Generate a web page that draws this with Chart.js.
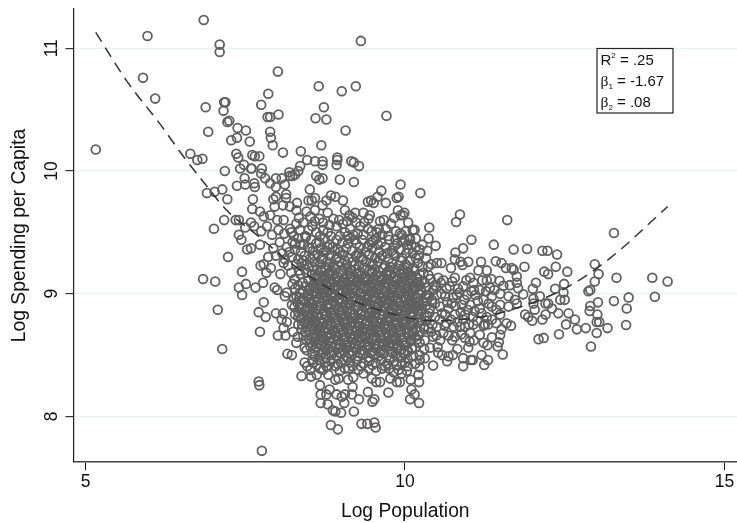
<!DOCTYPE html>
<html><head><meta charset="utf-8">
<style>html,body{margin:0;padding:0;background:#fff}#w{width:737px;height:523px;position:relative}</style>
<script src="https://cdn.jsdelivr.net/npm/chart.js@4"></script>
</head><body><div id="w"><canvas id="c" width="737" height="523"></canvas></div>
<script>
const xTicks=[5,10,15];
const yTicks=[8,9,10,11];
const fitCurve=[[5.16,11.13],[5.65,10.73],[6.17,10.38],[6.53,10.12],[6.84,9.915],[7.21,9.68],[7.68,9.48],[8.25,9.235],[9.04,8.98],[9.92,8.82],[10.44,8.78],[11.23,8.815],[11.85,8.90],[12.53,9.05],[13.21,9.29],[14.11,9.71]];
const upperCities=[[5.16,10.175],[5.97,11.10],[6.85,11.23],[7.10,11.03],[7.10,10.97],[9.31,11.06],[8.01,10.81],[5.90,10.76],[6.09,10.59],[7.86,10.63],[8.65,10.69],[9.01,10.65],[9.23,10.69],[6.88,10.52],[7.17,10.56],[7.19,10.56],[7.16,10.49],[7.75,10.54],[8.02,10.46],[7.85,10.44],[7.89,10.44],[8.73,10.52],[8.60,10.43],[8.77,10.42],[9.71,10.45],[9.07,10.33],[6.92,10.32],[7.22,10.40],[7.25,10.41],[7.38,10.35],[7.51,10.33],[7.37,10.27],[7.28,10.25],[7.57,10.24],[7.89,10.32],[7.90,10.27],[7.93,10.21],[8.69,10.21],[6.64,10.14],[6.75,10.09],[6.83,10.10],[8.09,10.15],[8.37,10.16],[7.36,10.14],[7.39,10.11],[7.61,10.13],[7.65,10.12],[7.72,10.12],[8.47,10.09],[8.59,10.08],[8.71,10.08],[8.71,10.05],[8.94,10.11],[8.94,10.09],[8.93,10.05],[9.16,10.08],[9.20,10.07],[9.28,10.04],[7.18,10.00],[7.48,10.05],[7.42,10.02],[7.59,10.02],[7.60,10.02],[7.76,10.02],[7.75,9.98],[8.36,10.04],[8.33,10.00],[8.19,9.99],[8.20,9.96],[8.24,9.96],[8.28,9.97],[8.61,9.96],[8.66,9.93],[8.71,9.94],[8.98,9.93],[9.20,9.91],[7.81,9.94],[7.89,9.90],[7.98,9.94],[8.07,9.94],[8.12,9.89],[7.98,9.87],[7.37,9.88],[7.50,9.89],[7.49,9.94],[7.64,9.90],[7.65,9.87],[7.14,9.85],[7.02,9.83],[6.90,9.82],[7.22,9.77],[7.62,9.77],[8.51,9.85],[8.14,9.81],[8.14,9.78],[7.94,9.77],[7.98,9.79],[9.63,9.84],[9.57,9.79],[9.47,9.76],[9.42,9.75],[9.51,9.74],[9.70,9.74],[9.87,9.78],[9.93,9.89],[9.90,9.79],[9.03,9.76],[8.91,9.79],[8.84,9.80],[8.77,9.76],[8.49,9.76],[8.54,9.76],[8.59,9.78],[8.31,9.74],[8.71,9.72],[7.61,9.69],[7.73,9.67],[7.96,9.71],[8.09,9.72],[8.20,9.71],[8.30,9.68],[8.46,9.67],[8.59,9.68],[8.79,9.66],[9.22,9.66],[9.45,9.64],[9.93,9.64],[9.13,9.64],[9.18,9.62],[9.43,9.61],[9.61,9.59],[8.97,9.60],[9.24,9.58],[7.17,9.60],[7.35,9.60],[7.40,9.60],[7.01,9.53],[7.50,9.54],[7.59,9.58],[7.64,9.55],[7.89,9.64],[8.00,9.60],[8.10,9.60],[7.79,9.63],[7.84,9.55],[7.40,9.48],[7.75,9.51],[8.02,9.52],[8.20,9.53],[8.36,9.52],[8.49,9.52],[8.59,9.59],[8.72,9.58],[8.72,9.52],[8.84,9.47],[9.06,9.50],[9.14,9.53],[9.19,9.48],[9.35,9.48],[9.48,9.51],[9.64,9.48],[9.92,9.49],[10.24,9.82],[9.99,9.66],[10.05,9.58],[10.15,9.52],[9.78,9.57],[9.85,9.44],[9.56,9.50],[9.30,9.55],[8.93,9.55],[8.61,9.50],[8.30,9.57],[8.11,9.49],[7.92,9.48],[10.07,9.44],[8.41,9.58],[8.52,9.63],[8.26,9.47],[8.04,9.42],[8.15,9.38],[7.98,9.31],[8.08,9.33],[8.79,9.50],[8.88,9.61],[9.03,9.57],[9.26,9.49],[9.42,9.53],[9.70,9.53],[9.83,9.62],[10.01,9.51]];
const lowerLeft=[[7.23,9.30],[6.84,9.12],[7.03,9.10],[7.45,9.18],[7.44,9.44],[7.53,9.36],[7.59,9.37],[7.73,9.40],[7.94,9.37],[7.86,9.30],[7.74,9.23],[7.79,9.24],[7.90,9.21],[7.83,9.17],[8.10,9.25],[8.17,9.23],[8.05,9.16],[7.51,9.08],[7.40,9.05],[7.66,9.05],[7.78,9.09],[7.45,8.99],[7.96,9.05],[8.00,9.03],[8.15,9.01],[8.12,8.98],[7.07,8.87],[7.79,8.93],[7.71,8.85],[7.82,8.81],[7.98,8.84],[8.09,8.84],[8.07,8.79],[8.15,8.77],[8.23,8.91],[8.28,8.83],[7.73,8.69],[8.10,8.72],[8.01,8.66],[8.13,8.66],[8.25,8.69],[8.32,8.65],[8.30,8.60],[8.46,8.62],[8.38,8.71],[7.14,8.55],[8.46,8.54],[8.16,8.51],[8.23,8.50],[8.43,8.44],[8.47,8.41],[8.52,8.38],[8.38,8.33],[8.53,8.325],[8.62,8.34],[8.67,8.39],[8.77,8.41],[8.80,8.34],[8.91,8.41],[8.91,8.30],[8.96,8.31],[9.11,8.30],[9.19,8.32],[9.06,8.39],[9.35,8.35],[9.48,8.31],[9.55,8.28],[9.61,8.28],[9.77,8.31],[9.87,8.28],[9.64,8.39],[9.90,8.38],[7.71,8.285],[7.72,8.255],[8.67,8.255],[8.82,8.22],[8.77,8.18],[8.68,8.18],[8.93,8.18],[9.06,8.18],[9.17,8.18],[9.18,8.24],[9.42,8.20],[9.52,8.14],[9.49,8.12],[9.74,8.195],[9.28,8.14],[9.05,8.11],[8.68,8.11],[8.79,8.10],[9.01,8.16],[8.87,8.05],[8.91,8.04],[9.00,8.03],[9.20,8.04],[8.84,7.93],[8.95,7.895],[9.32,7.94],[9.41,7.94],[9.52,7.95],[9.54,7.91],[7.76,7.72]];
const rightTail=[[9.97,9.64],[10.86,9.645],[10.80,9.585],[11.60,9.60],[13.27,9.495],[10.38,9.54],[10.12,9.52],[10.37,9.45],[10.08,9.45],[10.48,9.39],[9.95,9.48],[11.04,9.44],[10.91,9.37],[10.79,9.336],[11.39,9.40],[11.70,9.36],[11.91,9.365],[12.15,9.35],[12.23,9.35],[12.38,9.32],[10.12,9.33],[10.78,9.28],[11.42,9.265],[11.51,9.25],[11.58,9.21],[11.19,9.26],[10.99,9.26],[10.87,9.26],[10.90,9.235],[10.57,9.25],[10.50,9.25],[10.41,9.24],[10.72,9.21],[11.87,9.22],[12.36,9.22],[12.97,9.24],[12.18,9.18],[12.24,9.16],[12.54,9.18],[13.03,9.16],[13.31,9.13],[13.87,9.13],[14.11,9.10],[12.97,9.10],[12.49,9.08],[12.05,9.09],[12.00,9.04],[12.35,9.04],[12.87,9.02],[12.90,9.03],[13.50,8.97],[13.91,8.975],[13.27,8.94],[13.02,8.93],[12.90,8.90],[12.89,8.86],[13.47,8.88],[13.01,8.83],[13.00,8.77],[13.04,8.77],[13.46,8.745],[13.17,8.72],[12.83,8.72],[12.69,8.71],[13.00,8.68],[12.66,8.79],[12.56,8.84],[12.52,8.75],[12.41,8.67],[12.40,8.84],[12.91,8.57],[12.17,8.64],[12.09,8.63],[11.99,8.78],[12.15,8.79],[12.20,8.83],[12.30,8.88],[12.20,8.92],[12.11,8.98],[12.01,8.96],[12.01,8.92],[12.03,8.87],[12.43,8.95],[12.50,8.95],[12.48,9.01],[12.24,8.92],[11.85,8.995],[11.75,9.09],[11.70,9.195],[11.67,9.21],[11.75,9.14],[11.77,9.045],[11.72,8.95],[11.75,8.92],[11.93,8.81],[11.88,8.83],[11.66,8.74],[11.59,8.76],[11.51,8.71],[11.49,8.665],[11.47,8.605],[11.45,8.57],[11.53,8.505],[11.36,8.645],[11.29,8.58],[11.23,8.60],[11.20,8.50],[11.30,8.46],[11.24,8.42],[11.06,8.46],[11.03,8.46],[10.91,8.475],[10.91,8.41],[11.01,8.61],[10.99,8.56],[10.82,8.55],[10.75,8.50],[10.68,8.49],[10.66,8.45],[10.58,8.50],[10.51,8.565],[10.52,8.52],[10.39,8.56],[10.44,8.415],[10.31,8.475],[10.23,8.46],[10.16,8.43],[10.23,8.40],[10.21,8.34],[10.22,8.28],[10.09,8.30],[10.10,8.22],[10.15,8.18],[10.08,8.14],[10.22,8.11],[9.95,8.35],[9.92,8.28],[10.03,8.37],[10.05,8.41],[10.13,8.49],[10.78,8.65],[10.94,8.64],[11.02,8.68],[11.17,8.665],[11.30,8.75],[11.43,8.76],[10.86,8.73],[10.60,8.68],[10.44,8.65],[10.23,8.60],[10.31,8.62],[10.29,9.17],[10.37,9.15],[10.52,9.13],[10.60,9.11],[10.78,9.13],[11.02,9.13],[11.15,9.19],[11.28,9.19],[11.28,9.11],[11.48,9.105],[11.07,9.09],[10.91,9.06],[10.70,9.06],[10.44,9.03],[10.23,9.07],[11.17,9.03],[11.33,9.05],[11.54,9.065],[11.64,9.07],[11.49,9.00],[11.62,8.98],[11.36,8.98],[11.23,8.95],[11.10,8.99],[10.97,8.99],[10.81,8.99],[10.63,8.98],[10.50,8.99],[10.34,8.965],[11.49,8.91],[11.62,8.895],[11.36,8.895],[11.17,8.88],[11.02,8.91],[10.89,8.91],[10.73,8.92],[10.55,8.895],[10.39,8.88],[10.23,8.91],[11.49,8.83],[11.28,8.81],[11.06,8.81],[10.94,8.83],[10.78,8.83],[10.63,8.83],[10.47,8.81],[10.31,8.81],[11.25,8.75],[11.07,8.75],[10.94,8.73],[10.76,8.73],[10.50,8.73],[10.37,8.72],[10.18,8.72],[10.65,8.76],[10.23,8.69],[10.08,8.62],[10.16,8.56],[10.00,8.515],[10.23,8.50]];
const upperBand=[[8.24,9.42],[8.33,9.45],[8.42,9.40],[8.53,9.44],[8.61,9.41],[8.74,9.45],[8.82,9.40],[8.93,9.44],[9.02,9.42],[9.13,9.45],[9.24,9.41],[9.33,9.44],[9.44,9.40],[9.55,9.45],[9.63,9.42],[9.75,9.44],[9.84,9.39],[9.96,9.43],[10.04,9.40],[10.17,9.38],[8.28,9.36],[8.37,9.34],[8.48,9.38],[8.56,9.35],[8.68,9.37],[8.77,9.35],[8.87,9.38],[8.98,9.34],[9.08,9.37],[9.17,9.35],[9.29,9.38],[9.38,9.34],[9.49,9.37],[9.60,9.34],[9.69,9.38],[9.79,9.35],[9.91,9.36],[10.02,9.33],[10.22,9.31],[8.23,9.30],[8.33,9.28],[8.43,9.31],[8.52,9.29],[8.63,9.32],[8.72,9.29],[8.83,9.31],[8.92,9.28],[9.03,9.32],[9.12,9.29],[9.23,9.31],[9.34,9.28],[9.44,9.32],[9.53,9.29],[9.64,9.31],[9.74,9.28],[9.85,9.31],[9.96,9.29],[10.08,9.27],[10.20,9.25],[10.33,9.29],[8.38,9.25],[8.47,9.24],[8.58,9.26],[8.67,9.24],[8.78,9.26],[8.88,9.23],[8.97,9.26],[9.09,9.24],[9.18,9.26],[9.28,9.23],[9.39,9.26],[9.49,9.24],[9.58,9.26],[9.69,9.23],[9.80,9.25],[9.90,9.23],[10.01,9.24],[10.13,9.21],[10.27,9.22]];
const denseCore=[
[8.62,9.20],[8.70,9.18],[8.76,9.21],[8.85,9.19],[8.91,9.20],[9.00,9.18],[9.06,9.21],[9.15,9.19],[9.22,9.20],[9.30,9.18],[9.36,9.21],[9.45,9.19],[9.52,9.20],[9.60,9.18],[9.66,9.21],[9.75,9.19],[9.83,9.20],[9.90,9.18],[9.97,9.20],[10.05,9.18],[10.14,9.19],
[8.55,9.16],[8.64,9.15],[8.72,9.14],[8.79,9.16],[8.87,9.15],[8.94,9.14],[9.02,9.16],[9.09,9.15],[9.17,9.14],[9.24,9.16],[9.32,9.15],[9.39,9.14],[9.47,9.16],[9.55,9.15],[9.62,9.14],[9.70,9.16],[9.77,9.15],[9.85,9.14],[9.93,9.16],[10.00,9.14],[10.09,9.15],[10.18,9.13],
[8.49,9.11],[8.60,9.12],[8.67,9.10],[8.75,9.11],[8.82,9.12],[8.90,9.10],[8.97,9.11],[9.05,9.12],[9.12,9.10],[9.20,9.11],[9.27,9.12],[9.35,9.10],[9.42,9.11],[9.50,9.12],[9.57,9.10],[9.65,9.11],[9.72,9.12],[9.80,9.10],[9.88,9.11],[9.96,9.12],[10.04,9.10],[10.12,9.11],[10.26,9.10],
[8.44,9.06],[8.55,9.07],[8.62,9.08],[8.70,9.06],[8.78,9.07],[8.85,9.08],[8.92,9.06],[9.00,9.07],[9.07,9.08],[9.15,9.06],[9.22,9.07],[9.30,9.08],[9.37,9.06],[9.45,9.07],[9.52,9.08],[9.60,9.06],[9.67,9.07],[9.75,9.08],[9.83,9.06],[9.91,9.07],[9.99,9.08],[10.07,9.06],[10.17,9.05],[10.33,9.05],
[8.40,9.02],[8.50,9.03],[8.58,9.02],[8.65,9.04],[8.73,9.03],[8.80,9.02],[8.88,9.04],[8.95,9.03],[9.03,9.02],[9.10,9.04],[9.18,9.03],[9.25,9.02],[9.33,9.04],[9.40,9.03],[9.48,9.02],[9.55,9.04],[9.63,9.03],[9.70,9.02],[9.78,9.04],[9.86,9.03],[9.94,9.02],[10.02,9.04],[10.11,9.02],[10.27,9.01],
[8.35,8.97],[8.46,8.98],[8.54,8.99],[8.61,8.98],[8.69,9.00],[8.76,8.98],[8.84,8.99],[8.91,8.98],[8.99,9.00],[9.06,8.98],[9.14,8.99],[9.21,8.98],[9.29,9.00],[9.36,8.98],[9.44,8.99],[9.51,8.98],[9.59,9.00],[9.66,8.98],[9.74,8.99],[9.82,8.98],[9.90,9.00],[9.98,8.98],[10.07,8.99],[10.17,8.97],[10.42,8.95],
[8.31,8.93],[8.42,8.94],[8.50,8.95],[8.58,8.94],[8.65,8.96],[8.72,8.94],[8.80,8.95],[8.87,8.94],[8.95,8.96],[9.02,8.94],[9.10,8.95],[9.17,8.94],[9.25,8.96],[9.32,8.94],[9.40,8.95],[9.47,8.94],[9.55,8.96],[9.62,8.94],[9.70,8.95],[9.78,8.94],[9.86,8.96],[9.94,8.94],[10.02,8.95],[10.12,8.93],[10.28,8.94],
[8.38,8.89],[8.47,8.90],[8.54,8.91],[8.62,8.90],[8.69,8.92],[8.77,8.90],[8.84,8.91],[8.92,8.90],[8.99,8.92],[9.07,8.90],[9.14,8.91],[9.22,8.90],[9.29,8.92],[9.37,8.90],[9.44,8.91],[9.52,8.90],[9.59,8.92],[9.67,8.90],[9.74,8.91],[9.82,8.90],[9.90,8.92],[9.98,8.90],[10.07,8.91],[10.17,8.89],[10.32,8.90],
[8.33,8.85],[8.43,8.86],[8.51,8.87],[8.58,8.85],[8.66,8.87],[8.73,8.86],[8.81,8.88],[8.88,8.85],[8.96,8.87],[9.03,8.86],[9.11,8.88],[9.18,8.85],[9.26,8.87],[9.33,8.86],[9.41,8.88],[9.48,8.85],[9.56,8.87],[9.63,8.86],[9.71,8.88],[9.79,8.85],[9.87,8.87],[9.95,8.86],[10.03,8.87],[10.13,8.85],[10.24,8.86],
[8.37,8.80],[8.47,8.82],[8.55,8.83],[8.62,8.81],[8.70,8.83],[8.77,8.82],[8.85,8.84],[8.92,8.81],[9.00,8.83],[9.07,8.82],[9.15,8.84],[9.22,8.81],[9.30,8.83],[9.37,8.82],[9.45,8.84],[9.52,8.81],[9.60,8.83],[9.67,8.82],[9.75,8.84],[9.83,8.81],[9.91,8.83],[9.99,8.82],[10.08,8.83],[10.19,8.80],
[8.42,8.77],[8.51,8.78],[8.58,8.79],[8.66,8.77],[8.73,8.79],[8.81,8.78],[8.88,8.80],[8.96,8.77],[9.03,8.79],[9.11,8.78],[9.18,8.80],[9.26,8.77],[9.33,8.79],[9.41,8.78],[9.48,8.80],[9.56,8.77],[9.63,8.79],[9.71,8.78],[9.79,8.80],[9.87,8.77],[9.95,8.79],[10.03,8.78],[10.13,8.76],
[8.46,8.73],[8.54,8.74],[8.62,8.75],[8.69,8.73],[8.77,8.75],[8.84,8.74],[8.92,8.76],[8.99,8.73],[9.07,8.75],[9.14,8.74],[9.22,8.76],[9.29,8.73],[9.37,8.75],[9.44,8.74],[9.52,8.76],[9.59,8.73],[9.67,8.75],[9.75,8.74],[9.83,8.76],[9.91,8.73],[9.99,8.75],[10.08,8.74],
[8.50,8.69],[8.58,8.70],[8.65,8.71],[8.73,8.69],[8.80,8.71],[8.88,8.70],[8.95,8.72],[9.03,8.69],[9.10,8.71],[9.18,8.70],[9.25,8.72],[9.33,8.69],[9.40,8.71],[9.48,8.70],[9.55,8.72],[9.63,8.69],[9.70,8.71],[9.78,8.70],[9.86,8.72],[9.94,8.69],[10.03,8.71],[10.13,8.68],
[8.54,8.65],[8.62,8.66],[8.69,8.67],[8.77,8.65],[8.84,8.67],[8.92,8.66],[8.99,8.68],[9.07,8.65],[9.14,8.67],[9.22,8.66],[9.29,8.68],[9.37,8.65],[9.44,8.67],[9.52,8.66],[9.59,8.68],[9.67,8.65],[9.74,8.67],[9.82,8.66],[9.90,8.68],[9.98,8.65],[10.07,8.66],
[8.58,8.61],[8.66,8.62],[8.73,8.63],[8.81,8.61],[8.88,8.63],[8.96,8.62],[9.03,8.64],[9.11,8.61],[9.18,8.63],[9.26,8.62],[9.33,8.64],[9.41,8.61],[9.48,8.63],[9.56,8.62],[9.63,8.64],[9.71,8.61],[9.78,8.63],[9.86,8.62],[9.94,8.64],[10.02,8.61],
[8.61,8.57],[8.69,8.58],[8.77,8.59],[8.84,8.57],[8.92,8.59],[8.99,8.58],[9.07,8.60],[9.14,8.57],[9.22,8.59],[9.29,8.58],[9.37,8.60],[9.44,8.57],[9.52,8.59],[9.59,8.58],[9.67,8.60],[9.74,8.57],[9.82,8.59],[9.90,8.58],[9.98,8.60],
[8.64,8.53],[8.72,8.54],[8.80,8.55],[8.88,8.53],[8.95,8.55],[9.03,8.54],[9.10,8.56],[9.18,8.53],[9.25,8.55],[9.33,8.54],[9.40,8.56],[9.48,8.53],[9.55,8.55],[9.63,8.54],[9.70,8.56],[9.78,8.53],[9.86,8.55],[9.94,8.54],
[8.59,8.49],[8.68,8.50],[8.76,8.48],[8.85,8.50],[8.93,8.49],[9.01,8.51],[9.09,8.48],[9.17,8.50],[9.26,8.49],[9.34,8.51],[9.43,8.48],[9.51,8.50],[9.59,8.49],[9.67,8.51],[9.76,8.48],[9.85,8.50],[9.94,8.48],[10.04,8.47],
[8.56,8.44],[8.66,8.46],[8.75,8.44],[8.84,8.45],[8.95,8.43],[9.04,8.46],[9.14,8.44],[9.24,8.45],[9.35,8.43],[9.44,8.45],[9.54,8.44],[9.63,8.46],[9.72,8.43],[9.83,8.45],[9.95,8.43],
[8.72,8.38],[8.98,8.37],[9.12,8.39],[9.27,8.38],[9.43,8.39],[9.55,8.37],[9.75,8.39],[9.82,8.36]];
const denseCore2=[
[8.36,9.40],[8.51,9.37],[8.66,9.42],[8.79,9.38],[8.95,9.36],[9.11,9.41],[9.27,9.33],[9.41,9.38],[9.58,9.40],[9.72,9.33],[9.88,9.41],[10.06,9.36],
[8.30,9.24],[8.41,9.27],[8.55,9.22],[8.69,9.28],[8.81,9.22],[8.94,9.30],[9.06,9.27],[9.21,9.23],[9.32,9.30],[9.46,9.25],[9.61,9.29],[9.77,9.22],[9.93,9.27],[10.05,9.22],[10.17,9.29],
[8.34,9.19],[8.46,9.17],[8.58,9.13],[8.68,9.19],[8.81,9.17],[8.93,9.12],[9.04,9.19],[9.14,9.12],[9.27,9.17],[9.38,9.12],[9.49,9.18],[9.63,9.12],[9.73,9.18],[9.87,9.12],[9.99,9.17],[10.10,9.13],[10.23,9.16],
[8.27,9.12],[8.40,9.09],[8.52,9.05],[8.66,9.06],[8.76,9.09],[8.89,9.05],[9.02,9.10],[9.10,9.06],[9.24,9.09],[9.34,9.04],[9.47,9.09],[9.58,9.04],[9.70,9.09],[9.81,9.04],[9.95,9.10],[10.05,9.04],[10.20,9.09],
[8.28,9.04],[8.36,9.01],[8.48,9.00],[8.60,9.05],[8.71,9.01],[8.83,9.03],[8.97,9.01],[9.08,9.02],[9.20,9.05],[9.31,9.00],[9.43,9.05],[9.54,9.01],[9.68,9.05],[9.80,9.01],[9.92,9.05],[10.04,9.00],[10.14,9.05],[10.24,8.99],
[8.30,8.98],[8.39,8.95],[8.52,8.93],[8.63,9.00],[8.74,8.96],[8.86,8.97],[8.97,8.95],[9.08,8.97],[9.19,8.96],[9.30,8.95],[9.42,8.97],[9.53,8.96],[9.64,8.97],[9.76,8.96],[9.88,8.94],[10.00,8.97],[10.09,8.95],[10.19,8.93],[10.36,8.99],
[8.27,8.89],[8.35,8.90],[8.45,8.87],[8.56,8.89],[8.67,8.90],[8.79,8.92],[8.90,8.87],[9.01,8.89],[9.12,8.93],[9.24,8.89],[9.35,8.93],[9.46,8.88],[9.57,8.89],[9.69,8.93],[9.80,8.88],[9.92,8.90],[10.04,8.92],[10.14,8.90],[10.26,8.88],
[8.33,8.81],[8.40,8.83],[8.52,8.81],[8.63,8.83],[8.75,8.84],[8.86,8.82],[8.98,8.85],[9.09,8.86],[9.20,8.83],[9.31,8.85],[9.43,8.82],[9.54,8.84],[9.65,8.83],[9.77,8.86],[9.89,8.81],[10.01,8.85],[10.11,8.81],[10.22,8.83],[10.34,8.78],
[8.39,8.75],[8.49,8.76],[8.60,8.77],[8.71,8.76],[8.83,8.76],[8.94,8.79],[9.05,8.77],[9.16,8.76],[9.28,8.80],[9.39,8.76],[9.50,8.78],[9.61,8.76],[9.73,8.80],[9.85,8.75],[9.97,8.77],[10.09,8.75],[10.20,8.77],[10.30,8.73],
[8.44,8.69],[8.55,8.72],[8.67,8.69],[8.78,8.72],[8.90,8.68],[9.01,8.71],[9.12,8.69],[9.24,8.70],[9.35,8.72],[9.46,8.68],[9.57,8.70],[9.69,8.73],[9.80,8.68],[9.92,8.71],[10.05,8.68],[10.16,8.65],
[8.50,8.63],[8.60,8.64],[8.71,8.65],[8.82,8.64],[8.94,8.65],[9.05,8.62],[9.16,8.65],[9.27,8.64],[9.39,8.66],[9.50,8.64],[9.61,8.66],[9.73,8.65],[9.84,8.64],[9.96,8.62],[10.10,8.63],
[8.52,8.57],[8.64,8.59],[8.75,8.56],[8.86,8.60],[8.97,8.56],[9.09,8.58],[9.20,8.56],[9.31,8.60],[9.42,8.58],[9.54,8.57],[9.65,8.58],[9.76,8.60],[9.88,8.56],[10.01,8.58],[10.11,8.55],
[8.55,8.51],[8.70,8.52],[8.83,8.52],[8.97,8.52],[9.12,8.52],[9.29,8.52],[9.46,8.52],[9.61,8.52],[9.80,8.52],[9.98,8.51],
[8.62,8.42],[8.80,8.41],[9.00,8.44],[9.18,8.41],[9.31,8.41],[9.49,8.42],[9.69,8.41],[9.87,8.42],[10.00,8.44]];
const rightShoulder=[[10.12,9.06],[10.21,9.12],[10.31,9.09],[10.40,9.12],[10.47,9.07],[10.56,9.09],[10.65,9.04],[10.74,9.10],[10.83,9.04],[10.96,9.11],[11.08,9.03],[11.21,9.11],[11.35,9.12],
[10.14,8.99],[10.25,9.03],[10.33,8.99],[10.42,8.93],[10.49,9.05],[10.57,9.00],[10.66,8.93],[10.75,8.97],[10.85,9.01],[10.93,8.95],[11.04,9.02],[11.14,8.94],[11.27,9.02],[11.40,9.03],
[10.11,8.88],[10.20,8.86],[10.30,8.93],[10.38,8.84],[10.47,8.92],[10.58,8.84],[10.68,8.88],[10.79,8.90],[10.87,8.85],[10.98,8.87],[11.09,8.86],[11.20,8.84],[11.31,8.92],[11.43,8.87],
[10.14,8.78],[10.26,8.78],[10.35,8.82],[10.43,8.75],[10.54,8.79],[10.62,8.74],[10.72,8.79],[10.82,8.77],[10.91,8.79],[11.00,8.75],[11.13,8.78],[11.23,8.74],[11.36,8.79],
[10.12,8.70],[10.21,8.66],[10.30,8.71],[10.41,8.69],[10.49,8.66],[10.55,8.62],[10.68,8.66],[10.74,8.62],[10.88,8.67],[11.08,8.62],[10.11,8.56],[10.19,8.63],[10.30,8.55],[10.05,8.53]];
const upperFill=[[8.22,9.50],[8.34,9.62],[8.44,9.47],[8.55,9.55],[8.66,9.61],[8.67,9.47],[8.82,9.56],[8.98,9.47],[9.09,9.59],[9.21,9.44],[9.36,9.58],[9.50,9.43],[9.59,9.53],[9.74,9.47],[9.86,9.51],[9.89,9.68],[9.99,9.44],[10.17,9.45],[10.27,9.40],[8.19,9.34],[8.28,9.41],[8.12,9.28],[8.22,9.17],[8.24,9.08],[8.26,8.96],[8.33,9.07],[8.36,9.16],[8.33,8.75],[8.41,8.66],[8.43,8.56],[8.53,8.60],[8.55,8.46],
[9.82,9.33],[9.47,9.42],[9.10,9.47],[8.90,9.35],[8.73,9.34],[8.58,9.31],[8.44,9.20],[8.50,9.22],[10.10,9.40],[10.23,9.36],[10.36,9.22],[10.35,9.35],[9.67,9.60],[9.35,9.66],[9.06,9.68],[8.45,9.46]];
const allCities=[...upperCities,...lowerLeft,...rightTail,...upperBand,...denseCore,...denseCore2,...rightShoulder,...upperFill];
const toPoints=a=>a.map(p=>({x:p[0],y:p[1]}));
const FONT="'Liberation Sans',Arial,sans-serif";
const statBox={id:'statBox',afterDraw(ch){
 const c=ch.ctx;c.save();
 c.fillStyle='#fff';c.strokeStyle='#222';c.lineWidth=1.2;
 c.fillRect(597,48.5,76,64.5);c.strokeRect(597,48.5,76,64.5);
 c.fillStyle='#111';c.textBaseline='alphabetic';c.textAlign='left';
 const t=(s,x,y,f,fam)=>{c.font=f+"px "+(fam||FONT);c.fillText(s,x,y);return x+c.measureText(s).width};
 let x=t('R',600.5,65,15);x=t('2',x,58,8);t(' = .25',x,65,15);
 x=t('β',600.5,86,15.5,"'Liberation Serif',serif");x=t('1',x,89,8);t(' = -1.67',x,86,15);
 x=t('β',600.5,107,15.5,"'Liberation Serif',serif");x=t('2',x,110,8);t(' = .08',x,107,15);
 c.restore();
}};
const noPad=s=>{s.paddingLeft=0;s.paddingRight=0;s.paddingTop=0;s.paddingBottom=0};
new Chart(document.getElementById('c'),{
 type:'scatter',
 data:{datasets:[
  {data:toPoints(allCities),order:2,showLine:false,pointRadius:4.4,pointBorderWidth:1.8,pointBorderColor:'#606060',pointBackgroundColor:'rgba(0,0,0,0)'},
  {type:'line',data:toPoints(fitCurve),order:1,pointRadius:0,borderColor:'#333',borderWidth:1.5,borderDash:[11,7],cubicInterpolationMode:'monotone',fill:false}
 ]},
 options:{responsive:false,animation:false,
  layout:{autoPadding:false,padding:{top:9,left:0,right:0,bottom:0}},
  plugins:{legend:{display:false},tooltip:{enabled:false}},
  scales:{
   x:{type:'linear',min:4.812,max:15.196,
    afterBuildTicks:s=>{s.ticks=xTicks.map(v=>({value:v}))},
    afterFit:s=>{s.height=61;noPad(s)},
    border:{color:'#444',width:1.6},
    grid:{drawOnChartArea:false,tickColor:'#111',tickLength:8,tickWidth:1},
    ticks:{color:'#111',font:{family:FONT,size:17.5},padding:2,maxRotation:0,callback:v=>String(v)},
    title:{display:true,text:'Log Population',color:'#111',font:{family:FONT,size:19.3},padding:{top:3,bottom:0}}},
   y:{type:'linear',min:7.629,max:11.32,
    afterBuildTicks:s=>{s.ticks=yTicks.map(v=>({value:v}))},
    afterFit:s=>{s.width=73.5;noPad(s)},
    border:{color:'#222',width:1.2},
    grid:{color:'#e9f1f4',lineWidth:1.3,tickColor:'#111',tickLength:8,tickWidth:1},
    ticks:{color:'#111',font:{family:FONT,size:17.5},padding:4,minRotation:90,maxRotation:90,crossAlign:'center',callback:v=>String(v)},
    title:{display:true,text:'Log Spending per Capita',color:'#111',font:{family:FONT,size:19.3},padding:{top:8,bottom:0}}}
  }},
 plugins:[statBox]
});
</script></body></html>
